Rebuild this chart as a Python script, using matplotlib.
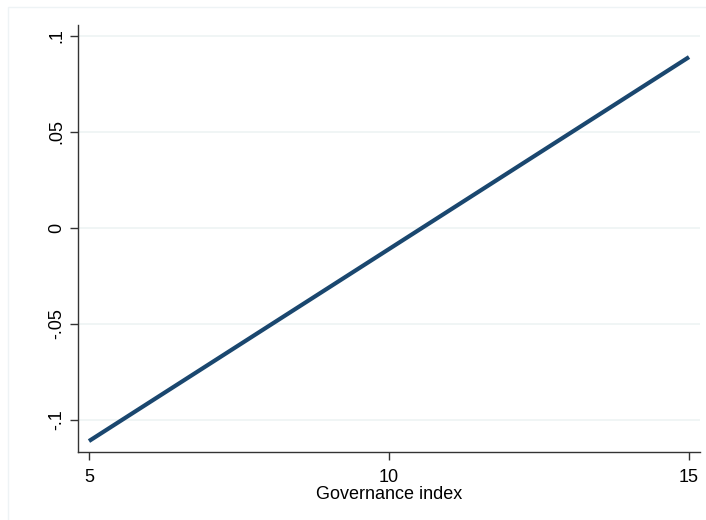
import numpy as np
import matplotlib.pyplot as plt
from matplotlib.patches import Rectangle

plt.rcParams['font.family'] = ['Liberation Sans', 'DejaVu Sans']

# predicted effect over the governance index
gov = [5, 10, 15]
effect = [-0.111, -0.011, 0.089]

yticks = [-0.1, -0.05, 0, 0.05, 0.1]
ytick_labels = ["-.1", "-.05", "0", ".05", ".1"]
xticks = [5, 10, 15]

fig = plt.figure(figsize=(7.06, 5.20), dpi=100)
fig.patches.append(Rectangle((8 / 706, -0.1), 1.2, 1.1 - 7 / 520,
                             transform=fig.transFigure, fill=False,
                             edgecolor='#eef3f5', linewidth=1))
ax = fig.add_axes([78 / 706, 68 / 520, (700 - 78) / 706, (452 - 25) / 520])

ax.plot(gov, effect, color='#1a476f', linewidth=3.0, solid_capstyle='butt')

ax.set_xlim(4.817, 15.183)
ax.set_ylim(-0.1167, 0.1057)
ax.set_yticks(yticks)
ax.set_yticklabels(ytick_labels, rotation=90, va='center')
ax.set_xticks(xticks)
ax.grid(axis='y', color='#eef3f4', linewidth=1.2)
ax.set_axisbelow(True)

for side in ['top', 'right']:
    ax.spines[side].set_visible(False)
for side in ['left', 'bottom']:
    ax.spines[side].set_color('#333333')
    ax.spines[side].set_linewidth(1.0)

ax.tick_params(axis='both', length=6, width=1, color='#333333', labelsize=13)
ax.tick_params(axis='x', pad=6)
ax.tick_params(axis='y', pad=3)
ax.set_xlabel("Governance index", fontsize=13, labelpad=0)

fig.savefig("out.png", dpi=100)
